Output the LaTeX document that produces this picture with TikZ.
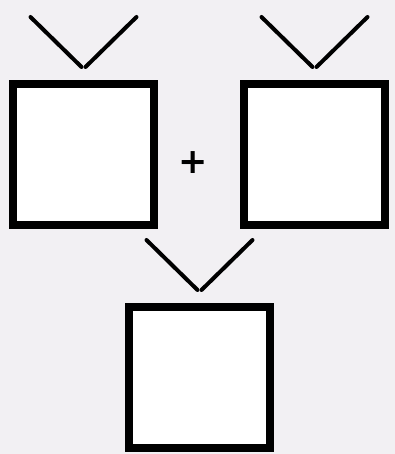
\documentclass[tikz,border=0pt]{standalone}
\usepackage{fontspec}
\setsansfont{DejaVu Sans}
\usetikzlibrary{calc}
\definecolor{bgGray}{HTML}{F2F0F3}

\begin{document}
\begin{tikzpicture}[x=1pt,y=1pt,
  screen/.style={draw,line width=8pt,fill=white,minimum size=141pt,inner sep=0pt},
  antenna/.style={line width=4pt,line cap=round}
]
  \fill[bgGray] (0,0) rectangle (395,454);
  \useasboundingbox (0,0) rectangle (395,454);
  \node[screen] (left) at (83.5,299.5) {};
  \node[screen] (right) at (314.5,299.5) {};
  \node[screen] (sum) at (199.5,76.5) {};
  \node[font=\sffamily\bfseries\fontsize{35}{35}\selectfont,inner sep=0pt] (plus) at (193.5,291.5) {+};
  % antennas on top of each screen
  \foreach \tv in {left,right,sum}{
    \coordinate (\tv-tip) at ($(\tv.north)+(0,13)$);
    \draw[antenna] ($(\tv-tip)+(-2,0)$) -- ++(-51,50);
    \draw[antenna] ($(\tv-tip)+(2,0)$) -- ++(51,50);
  }
\end{tikzpicture}
\end{document}
